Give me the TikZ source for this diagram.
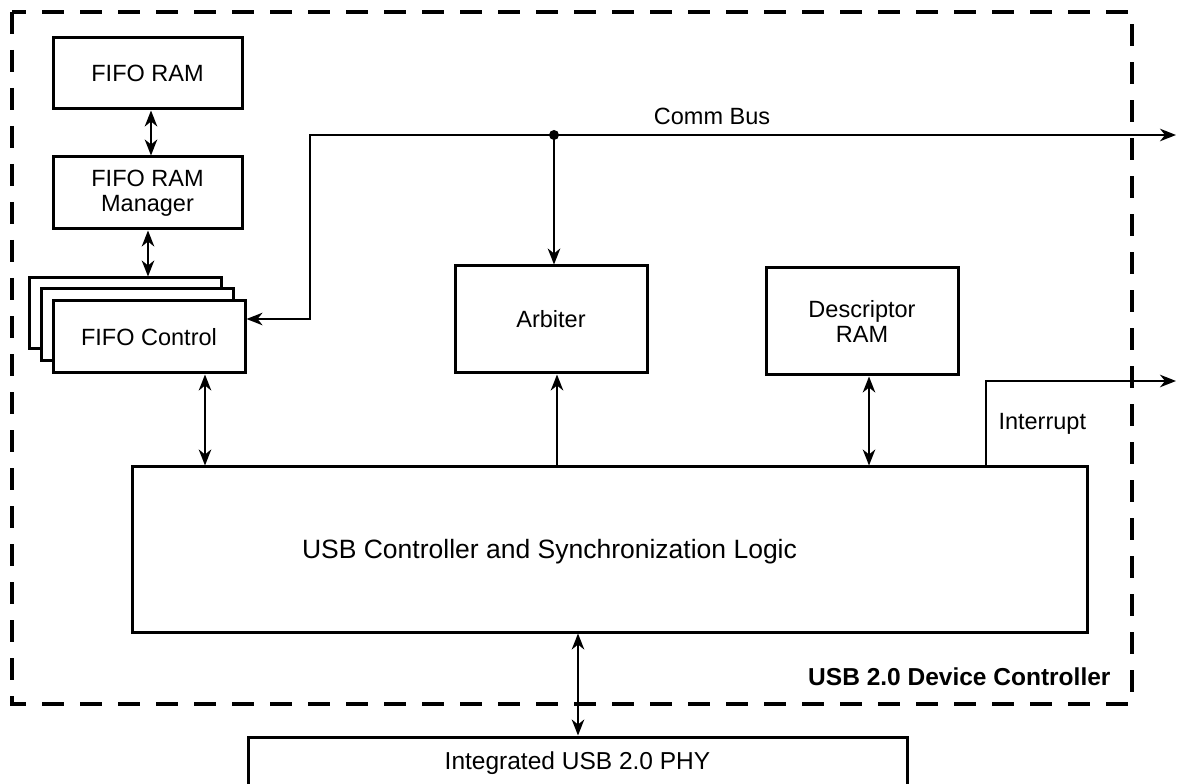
\documentclass[tikz,border=0pt]{standalone}
\usepackage{fontspec}
\setmainfont{Liberation Sans}
\usepackage{tikz}
\usetikzlibrary{arrows.meta,positioning}
\newcommand\pxu{0.4pt}
\tikzset{blk/.style={draw,line width=1.2pt,inner sep=0pt,align=center,fill=white,font=\fontsize{9.4}{10}\selectfont},conn/.style={line width=.9pt,>={Stealth[length=6.4pt,width=5pt,inset=2pt]}},busdot/.style={circle,fill,inner sep=0pt,minimum size=4pt},tag/.style={inner sep=0pt,font=\fontsize{9.4}{10}\selectfont}}

\begin{document}
\begin{tikzpicture}[x=0.4pt,y=-0.4pt]
\clip (0,0) rectangle (1177,784);
\fill[white] (0,0) rectangle (1177,784);
% device controller boundary
\draw[line width=1.3pt,dash pattern=on 8.8pt off 6.4pt] (12,12) rectangle (1132,704);
\node[tag,font=\fontsize{9.8}{11}\selectfont\bfseries,anchor=east] (devlbl) at (1111,677) {USB 2.0 Device Controller};
% blocks
\node[blk,minimum width=189*\pxu,minimum height=71*\pxu] (fiforam) at (147.5,73.5) {FIFO RAM};
\node[blk,minimum width=189*\pxu,minimum height=72*\pxu] (fifomgr) at (147.5,193) {FIFO RAM\\Manager};
\node[blk,minimum width=192*\pxu,minimum height=71*\pxu] (ctlback) at (125,313.5) {};
\node[blk,minimum width=192*\pxu,minimum height=72*\pxu] (ctlmid) at (137,325) {};
\node[blk,minimum width=192*\pxu,minimum height=72*\pxu] (ctlfront) at (149,337) {FIFO Control};
\node[blk,minimum width=192*\pxu,minimum height=107*\pxu] (arbiter) at (551,319.5) {Arbiter};
\node[blk,minimum width=192*\pxu,minimum height=107*\pxu] (descram) at (862,321.5) {Descriptor\\RAM};
\node[blk,minimum width=955*\pxu,minimum height=165*\pxu] (usbctl) at (609.5,549.5) {};
\node[tag,font=\fontsize{10.6}{12}\selectfont] (usbtxt) at (549.5,552) {USB Controller and Synchronization Logic};
\node[blk,font=\fontsize{9.8}{11}\selectfont,minimum width=659*\pxu,minimum height=53*\pxu] (phy) at (577.5,763.5) {Integrated USB 2.0 PHY};
% comm bus
\coordinate (bus) at (554,135);
\coordinate (busout) at (1176,135);
\coordinate (bend) at (310,319);
\coordinate (intout) at (1176,381);
\draw[conn,->] (bus) -- (busout);
\draw[conn,->] (bus) -| (bend) -- (bend -| ctlfront.east);
\draw[conn,->] (bus) -- (bus |- arbiter.north);
\node[busdot] (busjoin) at (bus) {};
\node[tag] (buslbl) at (712,116) {Comm Bus};
% links
\draw[conn,<->] (fiforam.south -| 151,0) -- (fifomgr.north -| 151,0);
\draw[conn,<->] (fifomgr.south -| 148,0) -- (ctlback.north -| 148,0);
\draw[conn,<->] (ctlfront.south -| 205,0) -- (usbctl.north -| 205,0);
\draw[conn,->] (usbctl.north -| 557,0) -- (arbiter.south -| 557,0);
\draw[conn,<->] (descram.south -| 869,0) -- (usbctl.north -| 869,0);
\draw[conn,->] (usbctl.north -| 986,0) |- (intout);
\node[tag,anchor=west] (intlbl) at (998,424) {Interrupt};
\draw[conn,<->] (usbctl.south -| 578,0) -- (phy.north -| 578,0);
\end{tikzpicture}
\end{document}
